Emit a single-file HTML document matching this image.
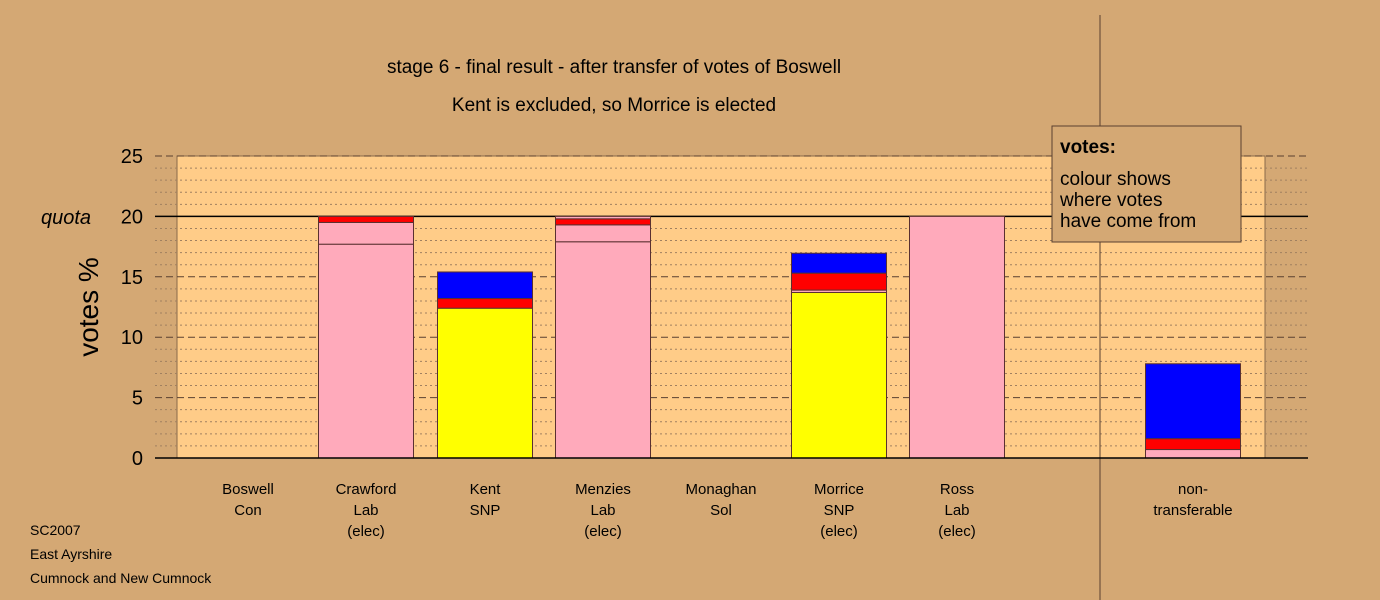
<!DOCTYPE html>
<html><head><meta charset="utf-8"><style>
body{margin:0;background:#d4a874;}
svg{display:block;font-family:"Liberation Sans",Arial,sans-serif;}
</style></head><body>
<svg id="chart" width="1380" height="600" viewBox="0 0 1380 600" xmlns="http://www.w3.org/2000/svg">
<rect x="0" y="0" width="1380" height="600" fill="#d4a874"/>
<rect x="177" y="156" width="1088" height="302" fill="#ffcc88" stroke="#8a6a4a" stroke-width="1"/>
<g id="grid"></g>
<line x1="1100" y1="15" x2="1100" y2="600" stroke="#5a4030" stroke-width="1"/>
<g id="bars"></g>
<line x1="155" y1="458" x2="1308" y2="458" stroke="#000" stroke-width="1.5"/>
<g id="yticks"></g>
<text x="66" y="224" font-size="20" font-style="italic" text-anchor="middle">quota</text>
<text transform="translate(98,307) rotate(-90)" font-size="28" text-anchor="middle">votes %</text>
<text x="614" y="73" font-size="19" text-anchor="middle">stage 6 - final result - after transfer of votes of Boswell</text>
<text x="614" y="111" font-size="19" text-anchor="middle">Kent is excluded, so Morrice is elected</text>
<g id="xlabels"></g>
<g>
<rect x="1052" y="126" width="189" height="116" fill="#d4a874" stroke="#5a4030" stroke-width="1"/>
<text x="1060" y="153" font-size="19" font-weight="bold">votes:</text>
<text x="1060" y="185" font-size="19">colour shows</text>
<text x="1060" y="206" font-size="19">where votes</text>
<text x="1060" y="227" font-size="19">have come from</text>
</g>
<text x="30" y="535" font-size="14">SC2007</text>
<text x="30" y="559" font-size="14">East Ayrshire</text>
<text x="30" y="583" font-size="14">Cumnock and New Cumnock</text>
</svg>
<script>
const categories = [["Boswell","Con"],["Crawford","Lab","(elec)"],["Kent","SNP"],["Menzies","Lab","(elec)"],["Monaghan","Sol"],["Morrice","SNP","(elec)"],["Ross","Lab","(elec)"],["non-","transferable"]];
const segColors = ["#ffaabb","#ffaabb","#ffff00","#ffaabb","#ff0000","#0000ff"];
// stacked segments per category: [colourIndex, value]
const segBoswell = [];
const segCrawford = [[0,17.7],[1,1.8],[4,0.5]];
const segKent = [[2,12.4],[4,0.8],[5,2.2]];
const segMenzies = [[0,17.9],[1,1.4],[4,0.5],[3,0.2]];
const segMonaghan = [];
const segMorrice = [[2,13.7],[0,0.2],[4,1.4],[5,1.65]];
const segRoss = [[0,20.0]];
const segNontrans = [[0,0.7],[4,0.9],[5,6.2]];
const yTickLabels = ["0","5","10","15","20","25"];
const yTickValues = [0,5,10,15,20,25];

const NS="http://www.w3.org/2000/svg";
const y0=458, pxPer=302/25;
const yS=v=>y0-v*pxPer;
const xCenters=[248,366,485,603,721,839,957,1193];
const xC=i=>xCenters[i];
function mk(tag,attrs,parent){const e=document.createElementNS(NS,tag);for(const k in attrs)e.setAttribute(k,attrs[k]);parent.appendChild(e);return e;}
const grid=document.getElementById('grid');
for(let v=1;v<25;v++){
  if(v%5===0) continue;
  const l=mk('line',{x1:155,x2:1308,y1:yS(v),y2:yS(v),stroke:'#a08060','stroke-width':1,'stroke-dasharray':'2,3'},grid);
  
  
}
yTickValues.forEach(v=>{
  if(v===0) return;
  const solid=v===20;
  const l=mk('line',{x1:155,x2:1308,y1:yS(v),y2:yS(v),stroke:solid?'#000':'#5a4030','stroke-width':solid?1.5:1,'stroke-dasharray':solid?'none':'7,4'},grid);
  
  
});
const yt=document.getElementById('yticks');
yTickValues.forEach((v,i)=>{
  const t=mk('text',{x:143,y:yS(v)+7,'font-size':20,'text-anchor':'end'},yt);
  t.textContent=yTickLabels[i];
  
  
});
const allSegs=[segBoswell,segCrawford,segKent,segMenzies,segMonaghan,segMorrice,segRoss,segNontrans];
const bars=document.getElementById('bars');
const bw=95;
allSegs.forEach((segs,i)=>{
  let acc=0;
  if(segs.length===0){
    const r=mk('line',{x1:xC(i)-bw/2,x2:xC(i)+bw/2,y1:y0,y2:y0,stroke:'#000','stroke-width':1},bars);
    
    
  }
  segs.forEach(s=>{
    const yTop=yS(acc+s[1]), yBot=yS(acc);
    const r=mk('rect',{x:xC(i)-bw/2,y:yTop,width:bw,height:yBot-yTop,fill:segColors[s[0]],stroke:'#5a3030','stroke-width':1},bars);
    
    
    acc+=s[1];
  });
});
const xl=document.getElementById('xlabels');
categories.forEach((c,i)=>{
  c.forEach((line,j)=>{
    const t=mk('text',{x:xC(i),y:494+j*21,'font-size':15,'text-anchor':'middle'},xl);
    t.textContent=line;
    
    
  });
});
</script>
</body></html>
